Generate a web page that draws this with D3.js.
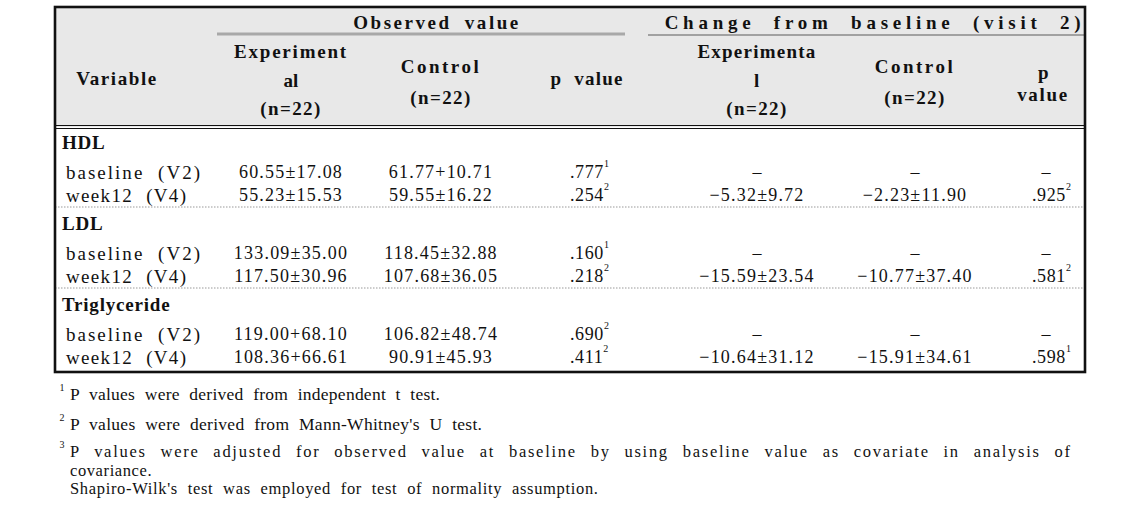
<!DOCTYPE html>
<html><head><meta charset="utf-8">
<script src="https://cdn.jsdelivr.net/npm/d3@7"></script>
<style>body{margin:0;background:#fff} svg{display:block}</style>
</head><body><svg id="c" width="1124" height="520"></svg>
<script>
// ---------------- data ----------------
const groups = ["HDL", "LDL", "Triglyceride"];
const visits = ["baseline (V2)", "week12 (V4)"];
const obsExperimental = [["60.55±17.08", "55.23±15.53"], ["133.09±35.00", "117.50±30.96"], ["119.00+68.10", "108.36+66.61"]];
const obsControl = [["61.77+10.71", "59.55±16.22"], ["118.45±32.88", "107.68±36.05"], ["106.82±48.74", "90.91±45.93"]];
const obsP = [[".777", ".254"], [".160", ".218"], [".690", ".411"]];
const obsPNote = [["1", "2"], ["1", "2"], ["2", "2"]];
const chgExperimental = [["–", "−5.32±9.72"], ["–", "−15.59±23.54"], ["–", "−10.64±31.12"]];
const chgControl = [["–", "−2.23±11.90"], ["–", "−10.77±37.40"], ["–", "−15.91±34.61"]];
const chgP = [["–", ".925"], ["–", ".581"], ["–", ".598"]];
const chgPNote = [["", "2"], ["", "2"], ["", "1"]];
const spanHeaders = ["Observed value", "Change from baseline (visit 2)"];
const colHeaders = [["Variable"], ["Experiment", "al", "(n=22)"], ["Control", "(n=22)"], ["p value"],
                    ["Experimenta", "l", "(n=22)"], ["Control", "(n=22)"], ["p", "value"]];
const footnoteMarks = ["1", "2", "3", "", ""];
const footnotes = ["P values were derived from independent t test.",
  "P values were derived from Mann-Whitney's U test.",
  "P values were adjusted for observed value at baseline by using baseline value as covariate in analysis of",
  "covariance.",
  "Shapiro-Wilk's test was employed for test of normality assumption."];

// ---------------- layout ----------------
const svg = d3.select("#c");
const L = 55, R = 1085, T = 7, HB = 127, B = 372;
const FONT = "Liberation Serif, DejaVu Serif, Times New Roman, serif";
const cols = ["var", "oe", "oc", "op", "ce", "cc", "cp"];
const xc = d3.scaleOrdinal().domain(cols).range([117, 291, 441, 570, 757, 915, 1032]);
const yGroup = d3.scaleBand().domain(groups).range([HB + 2, B]).paddingInner(0).paddingOuter(0);
const ySub = d3.scaleOrdinal().domain(["head", "baseline", "week12", "sep"]).range([13.5, 43, 66, 78]);

// header background
svg.append("rect").attr("x", L).attr("y", T).attr("width", R - L).attr("height", HB - T).attr("fill", "#e8e8e8");

function txt(str, x, y, o = {}) {
  const t = svg.append("text").attr("x", x).attr("y", y)
    .attr("font-family", FONT).attr("font-size", o.size || 17)
    .attr("font-weight", o.bold ? "bold" : "normal")
    .attr("text-anchor", o.anchor || "middle")
    .attr("dominant-baseline", "central")
    .attr("fill", o.fill || "#111")
    .text(str);
  if (o.ls) t.attr("letter-spacing", o.ls);
  if (o.w) fit(t, o.w, o.ws == null ? 6 : o.ws);
  return t;
}
// spread text to a target width: a fixed extra gap between words, the rest between letters
function fit(t, width, ws0) {
  const str = t.text();
  const spaces = (str.match(/ /g) || []).length;
  t.attr("letter-spacing", 0).attr("word-spacing", 0);
  const w0 = t.node().getComputedTextLength();
  const n = Math.max(1, str.length - 1);
  const ls = (width - w0 - spaces * ws0) / n;
  t.attr("word-spacing", spaces ? ws0 : 0).attr("letter-spacing", ls);
}

// spanning headers
txt(spanHeaders[0], 437, 22, {w: 165, size: 19, bold: true, ws: 6});
txt(spanHeaders[1], 875, 22, {w: 416, size: 19, bold: true, ws: 9});
svg.append("line").attr("x1", 217).attr("x2", 625).attr("y1", 34).attr("y2", 34).attr("stroke", "#a8a8a8").attr("stroke-width", 3);
svg.append("line").attr("x1", 648).attr("x2", R).attr("y1", 35).attr("y2", 35).attr("stroke", "#8a8a8a").attr("stroke-width", 1.3);

// column headers
const hdrY = {1: [78], 3: [51, 80, 108], 2: [66, 97]};
const hdrW = {"Variable": 80, "Experiment": 112, "al": 15, "(n=22)": 60, "Control": 78, "p value": 72,
              "Experimenta": 118, "l": 6, "p": 10, "value": 50};
colHeaders.forEach((lines, i) => {
  const ys = cols[i] === "cp" ? [72, 94] : hdrY[lines.length];
  lines.forEach((s, j) => txt(s, xc(cols[i]) + (cols[i] === "op" ? 17 : cols[i] === "cp" ? 11 : 0), ys[j],
    {w: hdrW[s], size: 19, bold: true, ws: 6}));
});

// header separator (double line)
svg.append("line").attr("x1", L).attr("x2", R).attr("y1", HB - 1.5).attr("y2", HB - 1.5).attr("stroke", "#111").attr("stroke-width", 1.2);
svg.append("line").attr("x1", L).attr("x2", R).attr("y1", HB + 1.5).attr("y2", HB + 1.5).attr("stroke", "#111").attr("stroke-width", 1.2);

// body
const subKeys = ["baseline", "week12"];
function pval(str, note, x, y) {
  const t = txt(str, x, y, {anchor: "start", ls: 0.6, size: 18});
  if (note) t.append("tspan").attr("font-size", 10).attr("dy", -9).text(note);
}
groups.forEach((g, gi) => {
  const y0 = yGroup(g);
  txt(g, 62, y0 + ySub("head"), {anchor: "start", bold: true, size: 19, ls: 0.8});
  subKeys.forEach((k, vi) => {
    const y = y0 + ySub(k);
    txt(visits[vi], 66, y, {anchor: "start", size: 19, ws: 7, w: visits[vi].length > 12 ? 134 : 120});
    txt(obsExperimental[gi][vi], xc("oe"), y, {ls: 1.2, size: 18});
    txt(obsControl[gi][vi], xc("oc"), y, {ls: 1.2, size: 18});
    pval(obsP[gi][vi], obsPNote[gi][vi], xc("op"), y);
    if (chgExperimental[gi][vi] === "–") {
      txt("–", xc("ce"), y, {size: 18}); txt("–", xc("cc"), y, {size: 18}); txt("–", 1046, y, {size: 18});
    } else {
      txt(chgExperimental[gi][vi], xc("ce"), y, {ls: 1.2, size: 18});
      txt(chgControl[gi][vi], xc("cc"), y, {ls: 1.2, size: 18});
      pval(chgP[gi][vi], chgPNote[gi][vi], xc("cp"), y);
    }
  });
  if (gi < groups.length - 1) {
    svg.append("line").attr("x1", L).attr("x2", R).attr("y1", y0 + ySub("sep")).attr("y2", y0 + ySub("sep"))
      .attr("stroke", "#999").attr("stroke-width", 1).attr("stroke-dasharray", "1.5,1.5");
  }
});

// outer border
svg.append("rect").attr("x", L).attr("y", T).attr("width", R - L).attr("height", B - T)
  .attr("fill", "none").attr("stroke", "#111").attr("stroke-width", 2.6);

// footnotes
const fnY = [394, 424, 451, 470, 488];
const fnW = [370, 412, 1000, null, 528];
const fnWs = [5, 5, 8, 0, 5];
footnotes.forEach((s, i) => {
  txt(s, 70, fnY[i], {anchor: "start", w: fnW[i], ws: fnWs[i], size: i >= 2 ? 16.5 : 17.5, ls: fnW[i] ? 0 : 0.6});
  if (footnoteMarks[i]) txt(footnoteMarks[i], 62, fnY[i] - 7, {anchor: "middle", size: 10});
});
</script></body></html>
